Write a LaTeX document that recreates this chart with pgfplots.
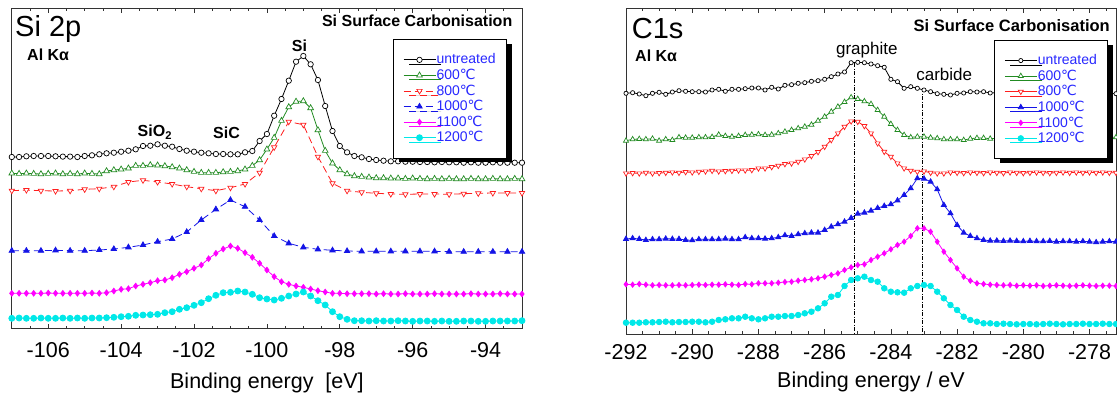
\documentclass[border=0pt]{standalone}
\usepackage{fontspec}
\setmainfont{Liberation Sans}
\newfontfamily\djvu{DejaVu Sans}
\usepackage{pgfplots}
\pgfplotsset{compat=1.18}
\usetikzlibrary{shadows}
\definecolor{cgreen}{RGB}{34,139,34}
\definecolor{cred}{RGB}{255,30,30}
\definecolor{cblue}{RGB}{20,20,230}
\definecolor{cmag}{RGB}{255,0,255}
\definecolor{ccyan}{RGB}{0,232,232}
\definecolor{ltext}{RGB}{40,40,255}
\newcommand{\degC}{{\djvu ℃}}
\pgfplotsset{
  xps/.style={
    scale only axis,
    axis line style={black!80, line width=0.9pt},
    tick align=inside,
    major tick length=5pt, minor tick length=3pt,
    tick style={black!80, line width=0.7pt},
    ytick=\empty,
    xticklabel style={font=\fontsize{21.5}{24}\selectfont, anchor=base, inner sep=0pt},
    xlabel style={at={(axis description cs:0.5,0)}, anchor=base, inner sep=0pt, font=\fontsize{21.5}{24}\selectfont},
    legend cell align=left,
    legend image code/.code={\draw[mark repeat=2,mark phase=2,##1] plot coordinates {(0pt,0pt) (16pt,0pt) (32pt,0pt)};},
    legend style={draw=black, fill=white, line width=0.8pt, text=ltext,
      font=\fontsize{14}{16}\selectfont, inner xsep=10pt, inner ysep=13.5pt,
      row sep=2pt, anchor=north west,
      /tikz/every even column/.append style={column sep=3.5pt},
      drop shadow={shadow xshift=5.5pt, shadow yshift=-4.5pt, fill=black, opacity=1},
      nodes={inner sep=0.6pt, text depth=0.2em}},
  },
  sU/.style={black, line width=0.8pt, mark=*, mark size=#1, mark options={fill=white, solid, line width=0.7pt}},
  sA/.style={cgreen, line width=0.8pt, mark=triangle*, mark size=#1, mark options={fill=white, solid, line width=0.7pt}},
  sB/.style={cred, line width=0.8pt, mark=triangle*, mark size=#1, mark options={fill=white, solid, rotate=180, line width=0.7pt}},
  sC/.style={cblue, line width=0.8pt, mark=triangle*, mark size=#1, mark options={solid}},
  sD/.style={cmag, line width=0.8pt, mark=diamond*, mark size=#1, mark options={solid}},
  sE/.style={ccyan, line width=0.8pt, mark=*, mark size=#1, mark options={solid}},
}
\begin{document}
\begin{tikzpicture}
% ---------------- left panel: Si 2p
\begin{axis}[xps,
  at={(11.8pt,-328.8pt)}, anchor=south west,
  width=510.2pt, height=320.5pt,
  xmin=-107, xmax=-93, ymin=-328.8, ymax=-8.3,
  xtick={-106,-104,-102,-100,-98,-96,-94},
  xticklabels={-106,-104,-102,-100,-98,-96,-94},
  minor xtick={-106.5,-105.5,-105,-104.5,-103.5,-103,-102.5,-101.5,-101,-100.5,-99.5,-99,-98.5,-97.5,-97,-96.5,-95.5,-95,-94.5,-93.5},
  minor ytick={-308.3,-288.6,-268.9,-249.2,-229.5,-209.7,-190.0,-170.3,-150.6,-130.9,-111.2,-91.5,-71.7,-52.0,-32.3,-12.6},
  xticklabel style={yshift=-28.2pt},
  xlabel={Binding energy\hspace{0.55em}[eV]},
  xlabel style={yshift=-60pt},
  legend style={at={(0.7466,0.9033)}},
]
\addplot[sU=2.7pt] coordinates {(-107.0,-157)(-106.8,-157)(-106.6,-156.3)(-106.4,-156)(-106.2,-156)(-106.0,-156)(-105.8,-156.3)(-105.6,-156.6)(-105.4,-156.6)(-105.2,-157)(-105.0,-156)(-104.8,-155.3)(-104.6,-154.3)(-104.4,-153.3)(-104.2,-152.7)(-104.0,-151.7)(-103.8,-150.7)(-103.6,-149.3)(-103.4,-146)(-103.2,-145.7)(-103.0,-144.3)(-102.8,-145.7)(-102.6,-146.7)(-102.4,-149)(-102.2,-150.7)(-102.0,-151.7)(-101.8,-152.7)(-101.6,-153.3)(-101.4,-154)(-101.2,-154)(-101.0,-154.3)(-100.8,-154.3)(-100.6,-152.3)(-100.4,-151)(-100.2,-141)(-100.0,-134)(-99.8,-115.7)(-99.6,-99)(-99.4,-80.7)(-99.2,-61.7)(-99.0,-56)(-98.8,-64.3)(-98.6,-80)(-98.4,-106)(-98.2,-131)(-98.0,-146)(-97.8,-152.3)(-97.6,-156)(-97.4,-157.3)(-97.2,-159)(-97.0,-160)(-96.8,-160.7)(-96.6,-161.3)(-96.4,-161.3)(-96.2,-161.7)(-96.0,-161.7)(-95.8,-162)(-95.6,-162)(-95.4,-162.3)(-95.2,-162)(-95.0,-162.3)(-94.8,-162.3)(-94.6,-162.7)(-94.4,-162.3)(-94.2,-162.7)(-94.0,-162.7)(-93.8,-162.3)(-93.6,-162.7)(-93.4,-162.7)(-93.2,-162.7)(-93.0,-162.7)};
\addlegendentry{untreated}
\addplot[sA=3.3pt] coordinates {(-107.0,-173.3)(-106.8,-173.7)(-106.6,-173.3)(-106.4,-173.7)(-106.2,-174)(-106.0,-173.7)(-105.8,-173.3)(-105.6,-174)(-105.4,-173.7)(-105.2,-174)(-105.0,-173.3)(-104.8,-173.7)(-104.6,-174)(-104.4,-171)(-104.2,-170)(-104.0,-169.3)(-103.8,-168.3)(-103.6,-165.7)(-103.4,-165.7)(-103.2,-165)(-103.0,-165.3)(-102.8,-166)(-102.6,-167)(-102.4,-168.3)(-102.2,-170)(-102.0,-171.7)(-101.8,-172.7)(-101.6,-172.7)(-101.4,-172.7)(-101.2,-172)(-101.0,-171.7)(-100.8,-171)(-100.6,-169.3)(-100.4,-165.7)(-100.2,-160)(-100.0,-149.3)(-99.8,-137.7)(-99.6,-120.7)(-99.4,-107)(-99.2,-101.5)(-99.0,-101)(-98.8,-108)(-98.6,-130)(-98.4,-150.7)(-98.2,-163.3)(-98.0,-170)(-97.8,-174)(-97.6,-176)(-97.4,-176.7)(-97.2,-177.3)(-97.0,-178)(-96.8,-178)(-96.6,-178.3)(-96.4,-178.3)(-96.2,-178.7)(-96.0,-178.3)(-95.8,-178.7)(-95.6,-179)(-95.4,-178.7)(-95.2,-179)(-95.0,-178.7)(-94.8,-179)(-94.6,-179)(-94.4,-178.7)(-94.2,-179)(-94.0,-179)(-93.8,-178.7)(-93.6,-179)(-93.4,-179)(-93.2,-178.7)(-93.0,-179)};
\addlegendentry{600\degC}
\addplot[sB=3.1pt, dash pattern=on 7pt off 4pt] coordinates {(-107.0,-190.7)(-106.6,-190)(-106.2,-190.7)(-105.8,-191)(-105.4,-190.7)(-105.0,-189.3)(-104.6,-188.7)(-104.2,-186.7)(-103.8,-182)(-103.4,-180.3)(-103.0,-182)(-102.6,-184)(-102.2,-186.7)(-101.8,-188.7)(-101.4,-190.7)(-101.0,-187.7)(-100.6,-184)(-100.2,-172.7)(-99.8,-147.3)(-99.4,-121.7)(-99.0,-124.7)(-98.6,-156.7)(-98.2,-183.3)(-97.8,-190.7)(-97.4,-192.3)(-97.0,-193.3)(-96.6,-194)(-96.2,-194.3)(-95.8,-194)(-95.4,-194)(-95.0,-194.3)(-94.6,-193.7)(-94.2,-193.3)(-93.8,-193)(-93.4,-193)(-93.0,-193)};
\addlegendentry{800\degC}
\addplot[sC=3.1pt, dash pattern=on 7pt off 4pt] coordinates {(-107.0,-250.7)(-106.6,-250.7)(-106.2,-250.7)(-105.8,-250.3)(-105.4,-250.7)(-105.0,-250.7)(-104.6,-250)(-104.2,-249)(-103.8,-247.3)(-103.4,-245)(-103.0,-241.7)(-102.6,-239)(-102.2,-232)(-101.8,-220)(-101.4,-209.3)(-101.0,-200)(-100.6,-206.7)(-100.2,-220)(-99.8,-236)(-99.4,-243.3)(-99.0,-247.3)(-98.6,-249.3)(-98.2,-250.3)(-97.8,-251)(-97.4,-251.3)(-97.0,-251.3)(-96.6,-251.3)(-96.2,-251.3)(-95.8,-251.3)(-95.4,-251.3)(-95.0,-251.7)(-94.6,-251.7)(-94.2,-251.7)(-93.8,-251.7)(-93.4,-251.7)(-93.0,-251.7)};
\addlegendentry{1000\degC}
\addplot[sD=2.8pt] coordinates {(-107.0,-293.3)(-106.8,-293.3)(-106.6,-293.3)(-106.4,-293.3)(-106.2,-293.3)(-106.0,-293.0)(-105.8,-293.3)(-105.6,-293.3)(-105.4,-293.3)(-105.2,-293.3)(-105.0,-293.3)(-104.8,-293.0)(-104.6,-293.3)(-104.4,-292.7)(-104.2,-291)(-104.0,-289.3)(-103.8,-288.7)(-103.6,-286)(-103.4,-284.3)(-103.2,-282.7)(-103.0,-280.7)(-102.8,-280)(-102.6,-277.7)(-102.4,-274.3)(-102.2,-271.7)(-102.0,-268.3)(-101.8,-265)(-101.6,-258.7)(-101.4,-253.3)(-101.2,-249)(-101.0,-246)(-100.8,-248.3)(-100.6,-252.7)(-100.4,-257.3)(-100.2,-263.3)(-100.0,-270)(-99.8,-276.7)(-99.6,-281.7)(-99.4,-284.3)(-99.2,-286)(-99.0,-287.3)(-98.8,-289)(-98.6,-290.7)(-98.4,-292)(-98.2,-293.3)(-98.0,-293.3)(-97.8,-293.7)(-97.6,-293.7)(-97.4,-293.7)(-97.2,-293.7)(-97.0,-294)(-96.8,-293.7)(-96.6,-294)(-96.4,-294)(-96.2,-293.7)(-96.0,-294)(-95.8,-294)(-95.6,-294)(-95.4,-293.7)(-95.2,-294)(-95.0,-294)(-94.8,-294)(-94.6,-294)(-94.4,-293.7)(-94.2,-294)(-94.0,-294)(-93.8,-294)(-93.6,-293.7)(-93.4,-294)(-93.2,-294)(-93.0,-294)};
\addlegendentry{1100\degC}
\addplot[sE=3pt] coordinates {(-107.0,-318.3)(-106.8,-318)(-106.6,-318.3)(-106.4,-318.3)(-106.2,-318)(-106.0,-318.3)(-105.8,-318.3)(-105.6,-318)(-105.4,-318.3)(-105.2,-318)(-105.0,-318.3)(-104.8,-318)(-104.6,-318)(-104.4,-317.7)(-104.2,-317.3)(-104.0,-316.7)(-103.8,-316.3)(-103.6,-315.3)(-103.4,-315)(-103.2,-314.7)(-103.0,-314.3)(-102.8,-312.7)(-102.6,-311.7)(-102.4,-309.3)(-102.2,-307.7)(-102.0,-305.3)(-101.8,-302.7)(-101.6,-298.7)(-101.4,-295.3)(-101.2,-292.7)(-101.0,-292.3)(-100.8,-291)(-100.6,-292)(-100.4,-294.3)(-100.2,-297.7)(-100.0,-299)(-99.8,-300)(-99.6,-298.3)(-99.4,-296)(-99.2,-294)(-99.0,-292)(-98.8,-296)(-98.6,-300.7)(-98.4,-305)(-98.2,-311.7)(-98.0,-316.7)(-97.8,-319.3)(-97.6,-320.7)(-97.4,-320.7)(-97.2,-321)(-97.0,-320.7)(-96.8,-321)(-96.6,-321)(-96.4,-320.7)(-96.2,-321)(-96.0,-321.3)(-95.8,-321)(-95.6,-321)(-95.4,-321.3)(-95.2,-321)(-95.0,-321.3)(-94.8,-321.3)(-94.6,-321)(-94.4,-321)(-94.2,-321.3)(-94.0,-321.3)(-93.8,-321)(-93.6,-321)(-93.4,-321)(-93.2,-321)(-93.0,-320.7)};
\addlegendentry{1200\degC}
\end{axis}
% ---------------- right panel: C1s
\begin{axis}[xps,
  at={(626pt,-334pt)}, anchor=south west,
  width=490pt, height=325.7pt,
  xmin=-292, xmax=-277.2, ymin=-334, ymax=-8.3,
  xtick={-292,-290,-288,-286,-284,-282,-280,-278},
  xticklabels={-292,-290,-288,-286,-284,-282,-280,-278},
  minor xtick={-291.5,-291,-290.5,-289.5,-289,-288.5,-287.5,-287,-286.5,-285.5,-285,-284.5,-283.5,-283,-282.5,-281.5,-281,-280.5,-279.5,-279,-278.5,-277.5},
  minor ytick={-317.9,-302.0,-286.1,-270.2,-254.3,-238.4,-222.5,-206.6,-190.7,-174.8,-158.9,-143.0,-127.1,-111.2,-95.3,-79.4,-63.5,-47.6,-31.7,-15.8},
  xticklabel style={yshift=-25pt},
  xlabel={Binding energy / eV},
  xlabel style={yshift=-53pt},
  legend style={at={(0.751,0.9027)}},
]
\addplot[sU=2.1pt] coordinates {(-292.0,-93.3)(-291.8,-92.7)(-291.6,-94)(-291.4,-95.7)(-291.2,-93.3)(-291.0,-92.3)(-290.8,-94.3)(-290.6,-92)(-290.4,-90.7)(-290.2,-91.3)(-290.0,-91.7)(-289.8,-91.7)(-289.6,-92)(-289.4,-90)(-289.2,-89.3)(-289.0,-91.3)(-288.8,-89.3)(-288.6,-89.3)(-288.4,-88.7)(-288.2,-88)(-288.0,-88)(-287.8,-90)(-287.6,-87.3)(-287.4,-89)(-287.2,-85.3)(-287.0,-84.7)(-286.8,-83.3)(-286.6,-82.7)(-286.4,-81.3)(-286.2,-80.7)(-286.0,-79.3)(-285.8,-76.7)(-285.6,-74)(-285.4,-72)(-285.2,-62.7)(-285.0,-62.3)(-284.8,-62.7)(-284.6,-64)(-284.4,-65.7)(-284.2,-67.3)(-284.0,-79.3)(-283.8,-81.7)(-283.6,-88.3)(-283.4,-86.7)(-283.2,-88.3)(-283.0,-90)(-282.8,-91.7)(-282.6,-93.7)(-282.4,-94.3)(-282.2,-95)(-282.0,-93.3)(-281.8,-93)(-281.6,-91.7)(-281.4,-92)(-281.2,-91.7)(-281.0,-93)(-280.8,-92.7)(-280.6,-93.3)(-280.4,-92.7)(-280.2,-93.7)(-280.0,-93)(-279.8,-92.7)(-279.6,-93.3)(-279.4,-94)(-279.2,-93)(-279.0,-93.3)(-278.8,-92.7)(-278.6,-93.3)(-278.4,-93.7)(-278.2,-93)(-278.0,-93.3)(-277.8,-93.7)(-277.6,-93.7)(-277.4,-93.3)(-277.2,-93.7)};
\addlegendentry{untreated}
\addplot[sA=2.9pt] coordinates {(-292.0,-140.7)(-291.8,-139.3)(-291.6,-139)(-291.4,-139.3)(-291.2,-138.7)(-291.0,-140.7)(-290.8,-139.3)(-290.6,-140)(-290.4,-137.3)(-290.2,-137.7)(-290.0,-137.7)(-289.8,-137.3)(-289.6,-137.3)(-289.4,-137)(-289.2,-134.7)(-289.0,-136)(-288.8,-136.7)(-288.6,-136)(-288.4,-135)(-288.2,-134.7)(-288.0,-134.3)(-287.8,-135)(-287.6,-134.7)(-287.4,-133.3)(-287.2,-131.7)(-287.0,-130)(-286.8,-128.3)(-286.6,-126.7)(-286.4,-124.7)(-286.2,-120.7)(-286.0,-116.7)(-285.8,-111.7)(-285.6,-106.7)(-285.4,-102)(-285.2,-97.3)(-285.0,-99)(-284.8,-101.3)(-284.6,-104)(-284.4,-110)(-284.2,-116.7)(-284.0,-124)(-283.8,-130)(-283.6,-135)(-283.4,-137.3)(-283.2,-136.7)(-283.0,-136.7)(-282.8,-137.7)(-282.6,-138.3)(-282.4,-139.3)(-282.2,-139.3)(-282.0,-139.3)(-281.8,-140)(-281.6,-138.7)(-281.4,-138)(-281.2,-138)(-281.0,-138.7)(-280.8,-138.3)(-280.6,-138)(-280.4,-138.7)(-280.2,-138.3)(-280.0,-138)(-279.8,-137.7)(-279.6,-138.3)(-279.4,-138)(-279.2,-137.7)(-279.0,-138)(-278.8,-137.7)(-278.6,-137.3)(-278.4,-138)(-278.2,-137.7)(-278.0,-137.3)(-277.8,-137.7)(-277.6,-137.3)(-277.4,-137.3)(-277.2,-137.3)};
\addlegendentry{600\degC}
\addplot[sB=2.9pt] coordinates {(-292.0,-173.3)(-291.8,-173)(-291.6,-173.3)(-291.4,-172.7)(-291.2,-173.3)(-291.0,-173)(-290.8,-172.7)(-290.6,-172.3)(-290.4,-172.7)(-290.2,-172)(-290.0,-172.3)(-289.8,-171.7)(-289.6,-171.3)(-289.4,-170.7)(-289.2,-171.3)(-289.0,-171)(-288.8,-170.7)(-288.6,-170.3)(-288.4,-170.3)(-288.2,-170)(-288.0,-168.3)(-287.8,-168.3)(-287.6,-167)(-287.4,-165.7)(-287.2,-164)(-287.0,-163.3)(-286.8,-161.7)(-286.6,-159.3)(-286.4,-156)(-286.2,-152)(-286.0,-146.7)(-285.8,-140)(-285.6,-133.3)(-285.4,-126.7)(-285.2,-121.3)(-285.0,-121.7)(-284.8,-126)(-284.6,-133.3)(-284.4,-143.3)(-284.2,-151.7)(-284.0,-156.7)(-283.8,-163.3)(-283.6,-168.3)(-283.4,-170.7)(-283.2,-171.7)(-283.0,-171.3)(-282.8,-172.7)(-282.6,-173.3)(-282.4,-173.3)(-282.2,-172.3)(-282.0,-172.7)(-281.8,-173)(-281.6,-172.3)(-281.4,-172.7)(-281.2,-173)(-281.0,-172.3)(-280.8,-172.7)(-280.6,-173)(-280.4,-172.3)(-280.2,-172.7)(-280.0,-173)(-279.8,-172.7)(-279.6,-172.3)(-279.4,-172.7)(-279.2,-173)(-279.0,-172.7)(-278.8,-172.3)(-278.6,-172.7)(-278.4,-172.3)(-278.2,-172.7)(-278.0,-172.3)(-277.8,-172.7)(-277.6,-172.3)(-277.4,-172.7)(-277.2,-172.7)};
\addlegendentry{800\degC}
\addplot[sC=2.9pt] coordinates {(-292.0,-239)(-291.8,-238.3)(-291.6,-239)(-291.4,-240)(-291.2,-239.3)(-291.0,-239.3)(-290.8,-238.7)(-290.6,-239)(-290.4,-239)(-290.2,-240)(-290.0,-240.3)(-289.8,-239.3)(-289.6,-239.3)(-289.4,-239.3)(-289.2,-239.3)(-289.0,-238.7)(-288.8,-239.3)(-288.6,-239.3)(-288.4,-237.3)(-288.2,-238.3)(-288.0,-238.3)(-287.8,-238.7)(-287.6,-238.3)(-287.4,-237.3)(-287.2,-235.3)(-287.0,-236)(-286.8,-234.3)(-286.6,-233.3)(-286.4,-232.7)(-286.2,-232.7)(-286.0,-230)(-285.8,-226.7)(-285.6,-224.3)(-285.4,-221.7)(-285.2,-218)(-285.0,-213.7)(-284.8,-212.7)(-284.6,-210.7)(-284.4,-208)(-284.2,-206)(-284.0,-204.3)(-283.8,-200.5)(-283.6,-195)(-283.4,-188.3)(-283.2,-178.3)(-283.0,-178.7)(-282.8,-181.7)(-282.6,-189.3)(-282.4,-205)(-282.2,-213.3)(-282.0,-225)(-281.8,-232.7)(-281.6,-236)(-281.4,-238.3)(-281.2,-240)(-281.0,-240.7)(-280.8,-240.7)(-280.6,-241)(-280.4,-240.7)(-280.2,-241)(-280.0,-241.3)(-279.8,-241)(-279.6,-241.3)(-279.4,-241.3)(-279.2,-241)(-279.0,-241.7)(-278.8,-241.3)(-278.6,-241.3)(-278.4,-241.7)(-278.2,-241.3)(-278.0,-241.7)(-277.8,-242.3)(-277.6,-241.7)(-277.4,-241.3)(-277.2,-241.7)};
\addlegendentry{1000\degC}
\addplot[sD=2.6pt] coordinates {(-292.0,-284.3)(-291.8,-284.7)(-291.6,-284)(-291.4,-284.7)(-291.2,-285.3)(-291.0,-285)(-290.8,-285.3)(-290.6,-285.3)(-290.4,-285)(-290.2,-285.3)(-290.0,-285)(-289.8,-284.7)(-289.6,-285)(-289.4,-284.7)(-289.2,-284.7)(-289.0,-284.3)(-288.8,-284.7)(-288.6,-285)(-288.4,-284)(-288.2,-284.3)(-288.0,-283.3)(-287.8,-283.3)(-287.6,-283.3)(-287.4,-282.7)(-287.2,-282)(-287.0,-281.7)(-286.8,-280.7)(-286.6,-280)(-286.4,-279.3)(-286.2,-278.3)(-286.0,-276.7)(-285.8,-275)(-285.6,-273.3)(-285.4,-270)(-285.2,-267.3)(-285.0,-265)(-284.8,-264.3)(-284.6,-260)(-284.4,-256.7)(-284.2,-253.3)(-284.0,-249.3)(-283.8,-245)(-283.6,-241.7)(-283.4,-236)(-283.2,-228.3)(-283.0,-228.3)(-282.8,-231.7)(-282.6,-241.7)(-282.4,-251.7)(-282.2,-260)(-282.0,-268.3)(-281.8,-276.7)(-281.6,-280.7)(-281.4,-283.3)(-281.2,-284)(-281.0,-284.7)(-280.8,-285)(-280.6,-285.3)(-280.4,-285)(-280.2,-285.7)(-280.0,-285.3)(-279.8,-285.7)(-279.6,-285.3)(-279.4,-286)(-279.2,-285.7)(-279.0,-285.3)(-278.8,-285.7)(-278.6,-286)(-278.4,-285.7)(-278.2,-285.3)(-278.0,-285.7)(-277.8,-286)(-277.6,-285.7)(-277.4,-285.7)(-277.2,-286)};
\addlegendentry{1100\degC}
\addplot[sE=2.8pt] coordinates {(-292.0,-322.7)(-291.8,-322.7)(-291.6,-322.7)(-291.4,-322.3)(-291.2,-322.3)(-291.0,-322)(-290.8,-321.7)(-290.6,-322.3)(-290.4,-322)(-290.2,-322)(-290.0,-321.7)(-289.8,-321.7)(-289.6,-322.3)(-289.4,-321.7)(-289.2,-320)(-289.0,-319.3)(-288.8,-318.3)(-288.6,-318.3)(-288.4,-316.7)(-288.2,-318.3)(-288.0,-319.3)(-287.8,-318.3)(-287.6,-316.7)(-287.4,-316.7)(-287.2,-316)(-287.0,-316)(-286.8,-315)(-286.6,-313.3)(-286.4,-311.7)(-286.2,-308.3)(-286.0,-303.3)(-285.8,-296.7)(-285.6,-295)(-285.4,-286)(-285.2,-280)(-285.0,-278.3)(-284.8,-276.7)(-284.6,-280)(-284.4,-281.7)(-284.2,-288.3)(-284.0,-291.7)(-283.8,-292.3)(-283.6,-292.7)(-283.4,-288.3)(-283.2,-286)(-283.0,-285)(-282.8,-286)(-282.6,-291.7)(-282.4,-298.3)(-282.2,-305)(-282.0,-310)(-281.8,-316.7)(-281.6,-320)(-281.4,-321.7)(-281.2,-323.3)(-281.0,-323.3)(-280.8,-324)(-280.6,-323.7)(-280.4,-324)(-280.2,-324.3)(-280.0,-324)(-279.8,-324)(-279.6,-324.3)(-279.4,-324)(-279.2,-323.7)(-279.0,-324)(-278.8,-324.3)(-278.6,-324)(-278.4,-324)(-278.2,-323.7)(-278.0,-324)(-277.8,-324)(-277.6,-323.7)(-277.4,-324)(-277.2,-324)};
\addlegendentry{1200\degC}
\addplot[forget plot, black, line width=0.6pt, dash pattern=on 4pt off 1.5pt on 1pt off 1.5pt] coordinates {(-285.1,-63) (-285.1,-334)};
\addplot[forget plot, black, line width=0.6pt, dash pattern=on 4pt off 1.5pt on 1pt off 1.5pt] coordinates {(-283.05,-88) (-283.05,-334)};
\end{axis}
% ---------------- annotations
\node[anchor=base west, inner sep=0pt, font=\fontsize{29}{34}\selectfont] at (15pt,-36.7pt) {Si 2p};
\node[anchor=base west, inner sep=0pt, font=\fontsize{16}{19}\selectfont\bfseries] at (27pt,-60pt) {Al Kα};
\node[anchor=base east, inner sep=0pt, font=\fontsize{16}{19}\selectfont\bfseries] at (512.5pt,-26.5pt) {Si Surface Carbonisation};
\node[anchor=base, inner sep=0pt, font=\fontsize{16}{19}\selectfont\bfseries] at (299.5pt,-51.7pt) {Si};
\node[anchor=base west, inner sep=0pt, font=\fontsize{16}{19}\selectfont\bfseries] at (137.5pt,-136.7pt) {SiO\textsubscript{2}};
\node[anchor=base west, inner sep=0pt, font=\fontsize{16}{19}\selectfont\bfseries] at (213pt,-138.7pt) {SiC};
\node[anchor=base west, inner sep=0pt, font=\fontsize{29}{34}\selectfont] at (631.7pt,-38.3pt) {C1s};
\node[anchor=base west, inner sep=0pt, font=\fontsize{16}{19}\selectfont\bfseries] at (635pt,-61.7pt) {Al Kα};
\node[anchor=base east, inner sep=0pt, font=\fontsize{16.5}{19}\selectfont\bfseries] at (1110pt,-31.7pt) {Si Surface Carbonisation};
\node[anchor=base, inner sep=0pt, font=\fontsize{17}{20}\selectfont] at (866.8pt,-54.3pt) {graphite};
\node[anchor=base, inner sep=0pt, font=\fontsize{17}{20}\selectfont] at (944.2pt,-80pt) {carbide};
\pgfresetboundingbox
\path[use as bounding box] (0pt,0pt) rectangle (1117pt,-397pt);
\end{tikzpicture}
\end{document}
